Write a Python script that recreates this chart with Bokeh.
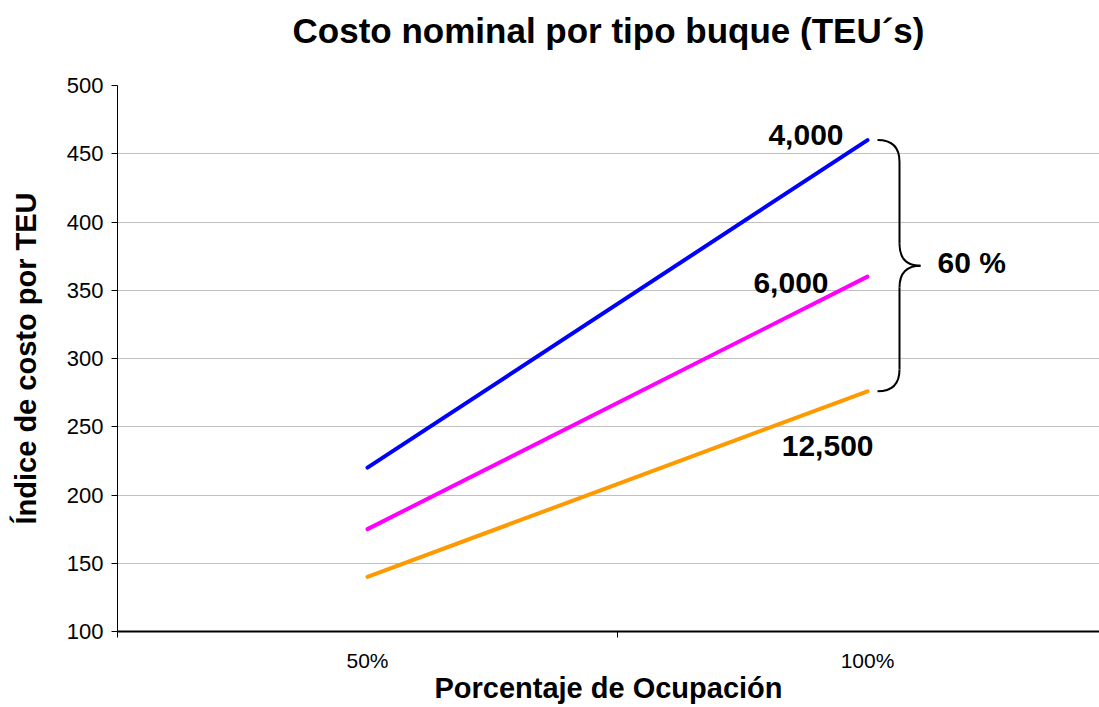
from bokeh.plotting import figure
from bokeh.models import Range1d, FixedTicker, Grid, Title
from bokeh.core.properties import value
from bokeh.embed import file_html
from bokeh.resources import INLINE

# ---- data ----
categories = ["50%", "100%"]
series_names = ["4,000", "6,000", "12,500"]
series_4000 = [220, 460]
series_6000 = [175, 360]
series_12500 = [140, 276]
series_colors = ["#0000FF", "#FF00FF", "#FF9900"]
y_ticks = [100, 150, 200, 250, 300, 350, 400, 450, 500]
brace_label = "60 %"

FONT = "Liberation Sans"

x_pos = [i + 0.5 for i in range(len(categories))]

p = figure(width=1099, height=707, output_backend="svg", toolbar_location=None,
           x_range=Range1d(0, 1.964), y_range=Range1d(y_ticks[0], y_ticks[-1]),
           min_border_left=117, min_border_right=0, min_border_top=85,
           min_border_bottom=76)
p.outline_line_color = None
p.background_fill_color = "white"
p.border_fill_color = "white"

# spacer between frame and title (title is placed outermost)
p.add_layout(Title(text=" ", text_font_size="2px", standoff=29), "above")

# title
p.title.text = "Costo nominal por tipo buque (TEU\u00b4s)"
p.title.text_font = FONT
p.title.text_font_size = "35px"
p.title.text_font_style = "bold"
p.title.align = "center"
p.title.text_color = "black"
p.title.standoff = 6

# grids
p.xgrid.visible = False
p.ygrid.ticker = FixedTicker(ticks=y_ticks[1:-1])
p.ygrid.grid_line_color = "#c0c0c0"
p.ygrid.grid_line_width = 1
top_grid = Grid(dimension=1, ticker=FixedTicker(ticks=[y_ticks[-1]]),
                grid_line_color="#808080", grid_line_width=1.5)
p.add_layout(top_grid)

# y axis
ya = p.yaxis[0]
ya.ticker = FixedTicker(ticks=y_ticks)
ya.axis_label = "\u00cdndice de costo por TEU"
ya.axis_label_text_font = FONT
ya.axis_label_text_font_size = "29px"
ya.axis_label_text_font_style = "bold"
ya.axis_label_text_color = "black"
ya.axis_label_standoff = 22
ya.major_label_text_font = FONT
ya.major_label_text_font_size = "22px"
ya.major_label_text_color = "black"
ya.major_label_standoff = 8
ya.major_tick_out = 6
ya.major_tick_in = 0
ya.minor_tick_line_color = None
ya.axis_line_color = "black"
ya.major_tick_line_color = "black"

# x axis
xa = p.xaxis[0]
xa.ticker = FixedTicker(ticks=x_pos, minor_ticks=[0, 1, 2])
xa.major_label_overrides = {x: c for x, c in zip(x_pos, categories)}
xa.major_tick_out = 0
xa.major_tick_in = 0
xa.major_tick_line_color = None
xa.minor_tick_out = 6
xa.minor_tick_in = 0
xa.minor_tick_line_color = "black"
xa.axis_line_color = "black"
xa.axis_line_width = 2
xa.major_label_text_font = FONT
xa.major_label_text_font_size = "21px"
xa.major_label_text_color = "black"
xa.major_label_standoff = 11
xa.axis_label = "Porcentaje de Ocupaci\u00f3n"
xa.axis_label_text_font = FONT
xa.axis_label_text_font_size = "29px"
xa.axis_label_text_font_style = "bold"
xa.axis_label_text_color = "black"
xa.axis_label_standoff = -3

# lines
all_series = [series_4000, series_6000, series_12500]
for vals, col in zip(all_series, series_colors):
    p.line(x_pos, vals, line_color=col, line_width=4, line_cap="round")

# series labels (offsets in pixels relative to line end)
offsets = [(-24, -5, "right"), (-39, 6, "right"), (6, 55, "right")]
for name, vals, (dx, dy, al) in zip(series_names, all_series, offsets):
    p.text(x=[x_pos[-1]], y=[vals[-1]], text=[name], x_offset=dx, y_offset=dy,
           text_align=al, text_baseline="middle", text_font=value(FONT),
           text_font_size="30px", text_font_style="bold", text_color="black")

# brace between top and bottom line ends
top = series_4000[-1]
bot = series_12500[-1]
mid = (top + bot) / 2.0
xt = x_pos[-1] + 0.02   # tips
xv = x_pos[-1] + 0.064  # vertical
xp = x_pos[-1] + 0.106  # point
r = 16
bk = dict(line_color="black", line_width=2)
p.quadratic(x0=[xt], y0=[top], x1=[xv], y1=[top - r], cx=[xv], cy=[top], **bk)
p.segment(x0=[xv], y0=[top - r], x1=[xv], y1=[mid + r], **bk)
p.quadratic(x0=[xv], y0=[mid + r], x1=[xp], y1=[mid], cx=[xv], cy=[mid], **bk)
p.quadratic(x0=[xp], y0=[mid], x1=[xv], y1=[mid - r], cx=[xv], cy=[mid], **bk)
p.segment(x0=[xv], y0=[mid - r], x1=[xv], y1=[bot + r], **bk)
p.quadratic(x0=[xv], y0=[bot + r], x1=[xt], y1=[bot], cx=[xv], cy=[bot], **bk)
p.text(x=[xp], y=[mid], text=[brace_label], x_offset=17, y_offset=-3,
       text_align="left", text_baseline="middle", text_font=value(FONT),
       text_font_size="30px", text_font_style="bold", text_color="black")

open("out.html", "w").write(file_html(p, INLINE))
